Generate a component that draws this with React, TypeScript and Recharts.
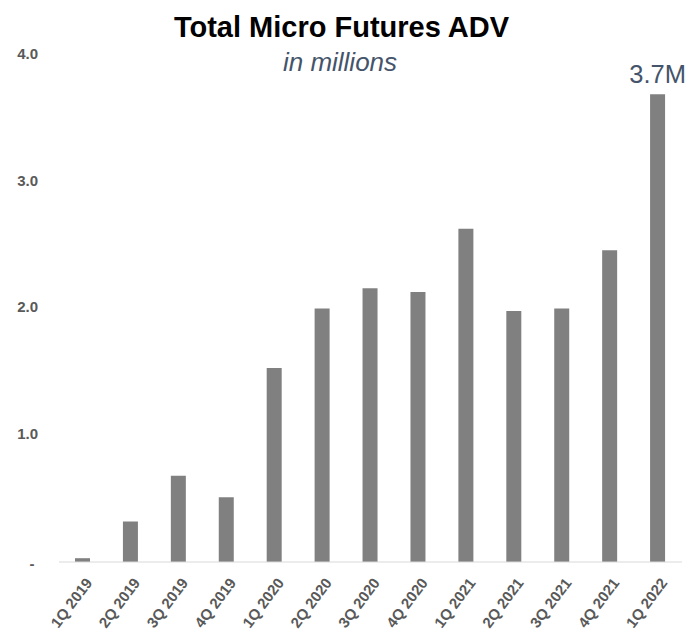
import { Bar, BarChart, LabelList, XAxis, YAxis } from "recharts";

const quarters = [
  "1Q 2019",
  "2Q 2019",
  "3Q 2019",
  "4Q 2019",
  "1Q 2020",
  "2Q 2020",
  "3Q 2020",
  "4Q 2020",
  "1Q 2021",
  "2Q 2021",
  "3Q 2021",
  "4Q 2021",
  "1Q 2022",
];

const adv = [0.03, 0.32, 0.68, 0.51, 1.53, 2.0, 2.16, 2.13, 2.63, 1.98, 2.0, 2.46, 3.69];

const yTicks = [0, 1, 2, 3, 4];

const chartData = quarters.map((q, i) => ({ quarter: q, adv: adv[i] }));

const FONT = "'Liberation Sans', Arial, sans-serif";

const YTick = (props: any) => {
  const { x, y, payload } = props;
  if (payload.value === 0) {
    return (
      <text x={x - 19} y={y + 3} textAnchor="middle" dominantBaseline="middle" fill="#595959" fontSize={15} fontWeight="bold" fontFamily={FONT}>
        -
      </text>
    );
  }
  return (
    <text x={x - 13} y={y} textAnchor="end" dominantBaseline="middle" fill="#595959" fontSize={15} fontWeight="bold" fontFamily={FONT}>
      {payload.value.toFixed(1)}
    </text>
  );
};

const XTick = (props: any) => {
  const { x, y, payload } = props;
  const tx = x + 10;
  const ty = y + 13;
  return (
    <text x={tx} y={ty} transform={`rotate(-53 ${tx} ${ty})`} textAnchor="end" fill="#595959" fontSize={15} fontWeight="bold" fontFamily={FONT}>
      {payload.value}
    </text>
  );
};

const LastLabel = (props: any) => {
  const { x, y, width, index } = props;
  if (index !== adv.length - 1) return null;
  return (
    <text x={x + width / 2} y={y - 11} textAnchor="middle" fill="#44546a" fontSize={25.5} fontFamily={FONT}>
      {adv[index].toFixed(1)}M
    </text>
  );
};

export default function App() {
  return (
    <div style={{ position: "absolute", left: 0, top: 0, width: 699, height: 631, background: "#fff", fontFamily: FONT }}>
      <div style={{ position: "absolute", left: 0, width: 683, top: 10, textAlign: "center", fontSize: 29, fontWeight: "bold", color: "#000", lineHeight: "34px" }}>
        Total Micro Futures ADV
      </div>
      <div style={{ position: "absolute", left: 0, width: 680, top: 46, textAlign: "center", fontSize: 26, fontStyle: "italic", color: "#44546a", lineHeight: "32px" }}>
        in millions
      </div>
      <div style={{ position: "absolute", left: 0, top: 0 }}>
        <BarChart width={699} height={631} data={chartData} margin={{ top: 55, right: 17, bottom: 0, left: 0 }} barSize={15}>
          <XAxis dataKey="quarter" height={69} axisLine={{ stroke: "#d9d9d9", strokeWidth: 1 }} tickLine={false} tick={<XTick />} interval={0} />
          <YAxis width={59} domain={[0, 4]} ticks={yTicks} axisLine={false} tickLine={false} tick={<YTick />} interval={0} />
          <Bar dataKey="adv" fill="#808080" isAnimationActive={false}>
            <LabelList dataKey="adv" content={<LastLabel />} />
          </Bar>
        </BarChart>
      </div>
    </div>
  );
}
